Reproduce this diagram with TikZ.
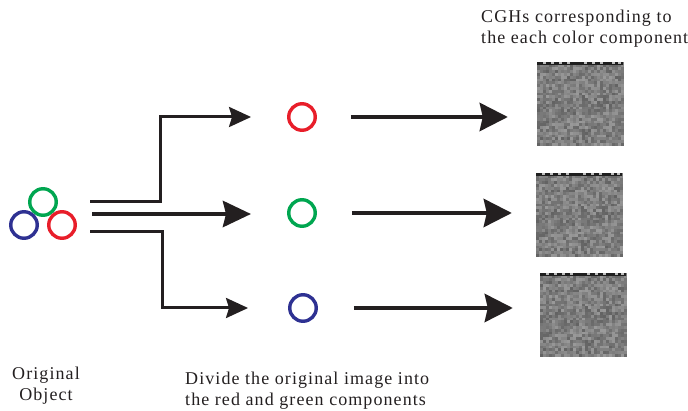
\documentclass[tikz,border=0pt]{standalone}
\usepackage{fontspec}
\setmainfont[LetterSpace=6]{Liberation Serif}
\usetikzlibrary{arrows.meta,calc}

\definecolor{cred}{RGB}{232,30,42}
\definecolor{cgreen}{RGB}{0,166,80}
\definecolor{cblue}{RGB}{46,49,146}
\definecolor{ink}{RGB}{35,31,32}

\tikzset{
  ring/.style={circle, draw=#1, line width=3.4pt, minimum size=26.5pt, inner sep=0pt},
  feed/.style={draw=ink, line width=3pt},
  tipS/.style={-{Stealth[length=22pt, width=20pt, inset=3pt]}},
  tipM/.style={-{Stealth[length=28pt, width=26pt, inset=3pt]}},
  tipL/.style={-{Stealth[length=28pt, width=28pt, inset=3pt]}},
  caption/.style={font=\fontsize{18pt}{21pt}\selectfont, text=ink, inner sep=0pt},
  cghbox/.style={minimum width=86pt, minimum height=84pt, inner sep=0pt},
}

% grey speckle pattern of a hologram, filling the given node
\newcommand{\holopatch}[1]{%
  \pgfmathsetseed{271}%
  \foreach \i in {0,...,28}{%
    \foreach \j in {0,...,29}{%
      \pgfmathsetmacro{\lev}{int(51+11*rand)}%
      \fill[black!\lev] ($(#1.north west)+(3*\i,2.8*\j)$) rectangle +(3.05,2.85);
    }%
  }%
  \fill[black!88] (#1.north west) rectangle ($(#1.north east)+(0,3.2)$);
  \foreach \k in {6,14,22,30,47,55,63,75,81}{%
    \fill[black!25] ($(#1.north west)+(\k,0.6)$) rectangle +(3,1.6);
  }%
}

\begin{document}
\begin{tikzpicture}[x=1pt, y=-1pt]
\useasboundingbox (0,0) rectangle (688,411);

% original object: three overlapping colour rings
\node[ring=cgreen] (og) at (43,202) {};
\node[ring=cblue]  (ob) at (24,225) {};
\node[ring=cred]   (or) at (62,225) {};

% separated colour components
\node[ring=cred]   (pr) at (302,117) {};
\node[ring=cgreen] (pg) at (302,213) {};
\node[ring=cblue]  (pb) at (303,308) {};

% holograms
\node[cghbox] (h1) at (580,104) {};
\node[cghbox] (h2) at (579,215) {};
\node[cghbox] (h3) at (583,315) {};
\holopatch{h1}
\holopatch{h2}
\holopatch{h3}

% splitting arrows
\coordinate (s1) at (90,202);
\coordinate (k1) at (160,202);
\coordinate (t1) at ($(pr.west)+(-36,0)$);
\coordinate (s2) at (92,214);
\coordinate (t2) at (251,214);
\coordinate (s3) at (90,232);
\coordinate (k3) at (162,232);
\coordinate (t3) at ($(pb.west)+(-40,0)$);

\draw[feed, tipS] (s1) -- (k1) |- (t1);
\draw[feed, line width=4.5pt, tipM] (s2) -- (t2);
\draw[feed, tipS] (s3) -- (k3) |- (t3);

% component to hologram arrows
\draw[feed, line width=4.5pt, tipL, shorten <=34pt, shorten >=29pt] (pr.east) -- (pr.east -| h1.west);
\draw[feed, line width=4.5pt, tipL, shorten <=35pt, shorten >=24pt] (pg.east) -- (pg.east -| h2.west);
\draw[feed, line width=4.5pt, tipL, shorten <=36pt, shorten >=27pt] (pb.east) -- (pb.east -| h3.west);

% captions
\node[caption, align=center] (lo) at (46,386) {Original\\Object};
\node[caption, align=left, anchor=west] (lm) at (185,391) {Divide the original image into\\the red and green components};
\node[caption, align=left, anchor=west] (lt) at (481,29) {CGHs corresponding to\\the each color component};
\end{tikzpicture}
\end{document}
